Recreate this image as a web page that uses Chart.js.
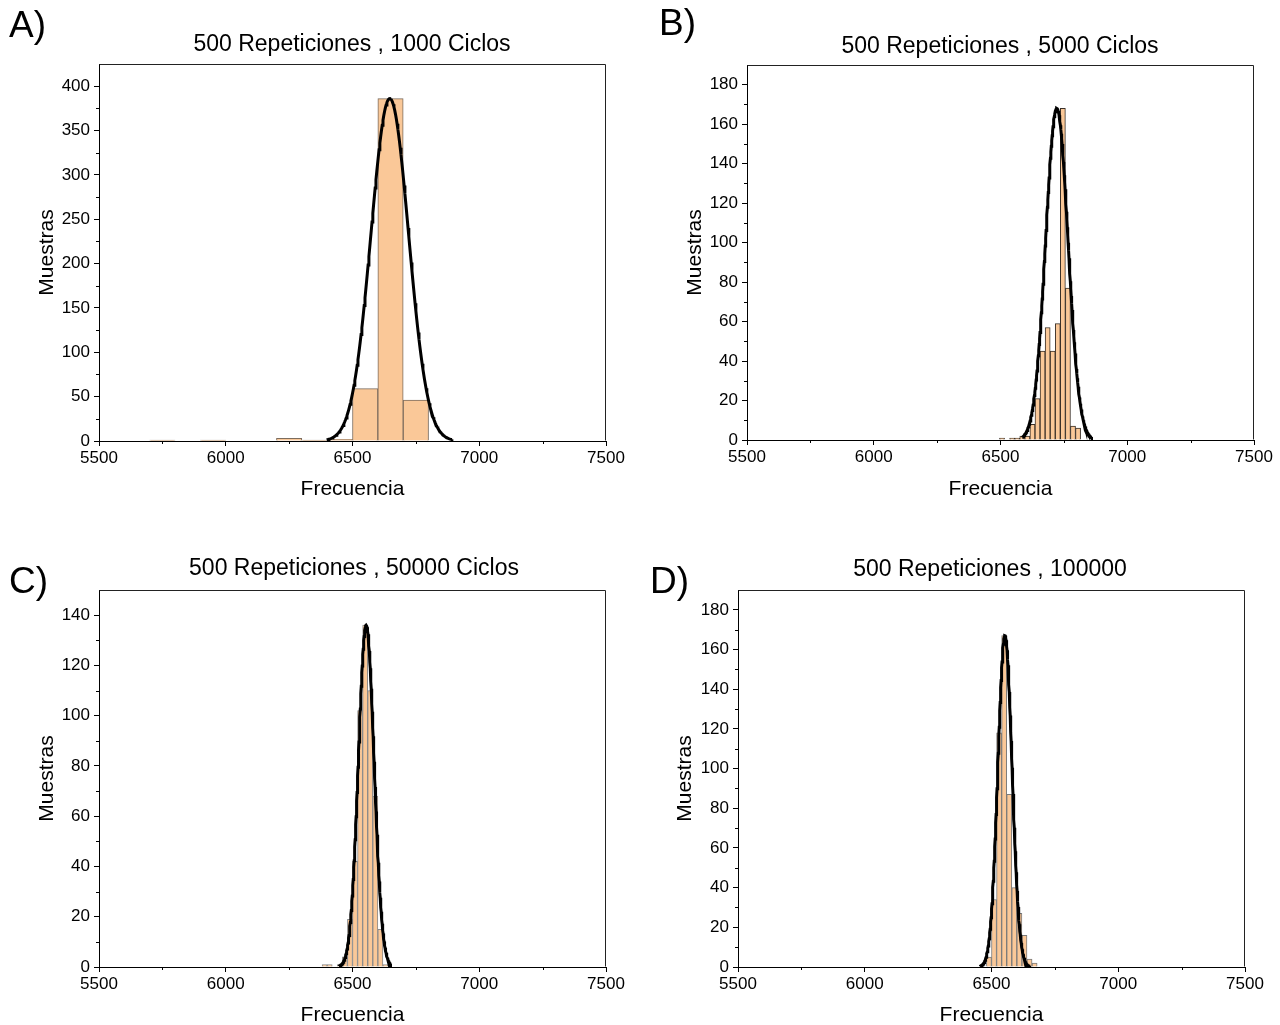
<!DOCTYPE html>
<html><head><meta charset="utf-8">
<script src="https://cdn.jsdelivr.net/npm/chart.js@4"></script>
<style>
html,body{margin:0;padding:0;background:#fff;}
body{width:1280px;height:1025px;position:relative;overflow:hidden;font-family:"Liberation Sans",Arial,sans-serif;color:#000;}
canvas{position:absolute;display:block;}
.ttl{position:absolute;font-size:23px;line-height:23px;white-space:nowrap;transform:translateX(-50%);}
.lbl{position:absolute;font-size:37px;line-height:37px;}
</style></head><body>
<canvas id="cA" width="640" height="512" style="left:0;top:0;width:640px;height:512px"></canvas>
<canvas id="cB" width="640" height="512" style="left:640px;top:0;width:640px;height:512px"></canvas>
<canvas id="cC" width="640" height="513" style="left:0;top:512px;width:640px;height:513px"></canvas>
<canvas id="cD" width="640" height="513" style="left:640px;top:512px;width:640px;height:513px"></canvas>
<div class="lbl" style="left:9px;top:6px">A)</div>
<div class="lbl" style="left:659px;top:4px">B)</div>
<div class="lbl" style="left:9px;top:562px">C)</div>
<div class="lbl" style="left:650px;top:562px">D)</div>
<div class="ttl" id="tA" style="left:352px;top:32px"></div>
<div class="ttl" id="tB" style="left:1000px;top:34px"></div>
<div class="ttl" id="tC" style="left:354px;top:556px"></div>
<div class="ttl" id="tD" style="left:990px;top:557px"></div>
<script>
// ---- data ----
const titleA = "500 Repeticiones , 1000 Ciclos";
const titleB = "500 Repeticiones , 5000 Ciclos";
const titleC = "500 Repeticiones , 50000 Ciclos";
const titleD = "500 Repeticiones , 100000";
const xLabel = "Frecuencia";
const yLabel = "Muestras";

const xTicks = [5500, 6000, 6500, 7000, 7500];
const xMinorTicks = [5750, 6250, 6750, 7250];

// Panel A (bin width 100)
const aBinWidth = 100;
const aBinStart = [5700, 5900, 6200, 6300, 6400, 6500, 6600, 6700];
const aCounts   = [1, 1, 3, 1, 2, 59, 386, 46];
const aYTicks = [0, 50, 100, 150, 200, 250, 300, 350, 400];
const aYMax = 425;
const aFit = [6647, 74, 386];        // center, sigma, height
const aFitRange = [6398, 6892];

// Panel B (bin width 20)
const bBinWidth = 20;
const bBinStart = [6496, 6536, 6556, 6576, 6596, 6616, 6636, 6656, 6676, 6696, 6716, 6736, 6756, 6776, 6796];
const bCounts   = [1, 1, 1, 2, 2, 8, 21, 45, 57, 45, 59, 168, 77, 7, 6];
const bYTicks = [0, 20, 40, 60, 80, 100, 120, 140, 160, 180];
const bYMax = 190;
const bFit = [6722, 44, 168];
const bFitRange = [6586, 6859];

// Panel C (bin width 20)
const cBinWidth = 20;
const cBinStart = [6380, 6400, 6440, 6460, 6480, 6500, 6520, 6540, 6560, 6580, 6600, 6620];
const cCounts   = [1, 1, 1, 4, 19, 42, 102, 136, 110, 68, 15, 1];
const cYTicks = [0, 20, 40, 60, 80, 100, 120, 140];
const cYMax = 150;
const cFit = [6554, 31, 136];
const cFitRange = [6447, 6650];

// Panel D (bin width 20)
const dBinWidth = 20;
const dBinStart = [6480, 6500, 6520, 6540, 6560, 6580, 6600, 6620, 6640, 6660];
const dCounts   = [5, 34, 118, 167, 87, 40, 27, 16, 4, 2];
const dYTicks = [0, 20, 40, 60, 80, 100, 120, 140, 160, 180];
const dYMax = 190;
const dFit = [6553, 28, 167];
const dFitRange = [6455, 6653];

// ---- drawing ----
const FONT = '"Liberation Sans", Arial, sans-serif';

const framePlugin = {
  id: 'frameMinor',
  afterDraw(chart, args, opts) {
    const {ctx, chartArea: ca, scales} = chart;
    const x = scales.x, y = scales.y;
    ctx.save();
    ctx.strokeStyle = '#222';
    ctx.lineWidth = 1;
    const L = Math.round(ca.left) + 0.5, T = Math.round(ca.top) + 0.5;
    const R = Math.round(ca.right) - 0.5, B = Math.round(ca.bottom) - 0.5;
    ctx.beginPath();
    ctx.moveTo(L, T); ctx.lineTo(R, T); ctx.lineTo(R, B);
    ctx.stroke();
    ctx.strokeStyle = '#000';
    ctx.beginPath();
    for (const v of opts.xMinor) {
      const px = Math.round(x.getPixelForValue(v)) + 0.5;
      ctx.moveTo(px, ca.bottom); ctx.lineTo(px, ca.bottom + 3);
    }
    for (const v of opts.yMinor) {
      const py = Math.round(y.getPixelForValue(v)) + 0.5;
      ctx.moveTo(ca.left, py); ctx.lineTo(ca.left - 3, py);
    }
    ctx.stroke();
    ctx.restore();
  }
};

function fitCurve(fit, range) {
  const [mu, s, h] = fit;
  const pts = [];
  const n = 160;
  for (let i = 0; i <= n; i++) {
    const xv = range[0] + (range[1] - range[0]) * i / n;
    pts.push({x: xv, y: h * Math.exp(-((xv - mu) ** 2) / (2 * s * s))});
  }
  return pts;
}

function midpoints(arr) {
  const out = [];
  for (let i = 0; i < arr.length - 1; i++) out.push((arr[i] + arr[i + 1]) / 2);
  return out;
}

function makeChart(id, p) {
  const bars = p.starts.map((s, i) => ({x: s + p.width / 2, y: p.counts[i]}));
  new Chart(document.getElementById(id), {
    type: 'bar',
    data: {
      datasets: [
        {type: 'line', data: fitCurve(p.fit, p.fitRange), borderColor: '#000', borderWidth: 3,
         pointRadius: 0, tension: 0, fill: false, order: 0},
        {type: 'bar', data: bars, backgroundColor: '#FAC898', borderColor: p.edge, borderWidth: 1,
         barPercentage: 1, categoryPercentage: 1, order: 1}
      ]
    },
    options: {
      responsive: false, animation: false, devicePixelRatio: 1,
      layout: {padding: {left: p.padL, right: p.padR, top: p.padT, bottom: p.padB}},
      plugins: {legend: {display: false}, tooltip: {enabled: false},
        frameMinor: {xMinor: xMinorTicks, yMinor: midpoints(p.yTicks)}},
      scales: {
        x: {
          type: 'linear', min: 5500, max: 7500, offset: false,
          afterBuildTicks: s => { s.ticks = xTicks.map(v => ({value: v})); },
          afterFit: s => { s.height = p.xH; },
          grid: {display: true, drawOnChartArea: false, drawTicks: true, tickLength: 5, tickColor: '#000', offset: false},
          border: {display: true, color: '#000', width: 1},
          ticks: {color: '#000', font: {family: FONT, size: 17}, padding: 2, maxRotation: 0, autoSkip: false,
                  callback: v => String(v)},
          title: {display: true, text: xLabel, color: '#000', font: {family: FONT, size: 21, lineHeight: 0.8}, padding: {top: 0, bottom: 0}}
        },
        y: {
          type: 'linear', min: 0, max: p.yMax,
          afterBuildTicks: s => { s.ticks = p.yTicks.map(v => ({value: v})); },
          afterFit: s => { s.width = p.yW; },
          grid: {display: true, drawOnChartArea: false, drawTicks: true, tickLength: 5, tickColor: '#000'},
          border: {display: true, color: '#000', width: 1},
          ticks: {color: '#000', font: {family: FONT, size: 17}, padding: 4, autoSkip: false,
                  callback: v => String(v)},
          title: {display: true, text: yLabel, color: '#000', font: {family: FONT, size: 21, lineHeight: 1}, padding: {top: 0, bottom: 0}}
        }
      }
    },
    plugins: [framePlugin]
  });
}

document.getElementById('tA').textContent = titleA;
document.getElementById('tB').textContent = titleB;
document.getElementById('tC').textContent = titleC;
document.getElementById('tD').textContent = titleD;

makeChart('cA', {starts: aBinStart, counts: aCounts, width: aBinWidth, yTicks: aYTicks, yMax: aYMax,
  fit: aFit, fitRange: aFitRange, edge: '#7d6d5e', padL: 37, padR: 34, padT: 64, padB: 14, yW: 62, xH: 57});
makeChart('cB', {starts: bBinStart, counts: bCounts, width: bBinWidth, yTicks: bYTicks, yMax: bYMax,
  fit: bFit, fitRange: bFitRange, edge: '#3a3028', padL: 45, padR: 26, padT: 65, padB: 14, yW: 62, xH: 58});
makeChart('cC', {starts: cBinStart, counts: cCounts, width: cBinWidth, yTicks: cYTicks, yMax: cYMax,
  fit: cFit, fitRange: cFitRange, edge: '#8a8a8a', padL: 37, padR: 34, padT: 78, padB: 1, yW: 62, xH: 57});
makeChart('cD', {starts: dBinStart, counts: dCounts, width: dBinWidth, yTicks: dYTicks, yMax: dYMax,
  fit: dFit, fitRange: dFitRange, edge: '#7a7a7a', padL: 35, padR: 35, padT: 78, padB: 1, yW: 63, xH: 57});
</script>
</body></html>
